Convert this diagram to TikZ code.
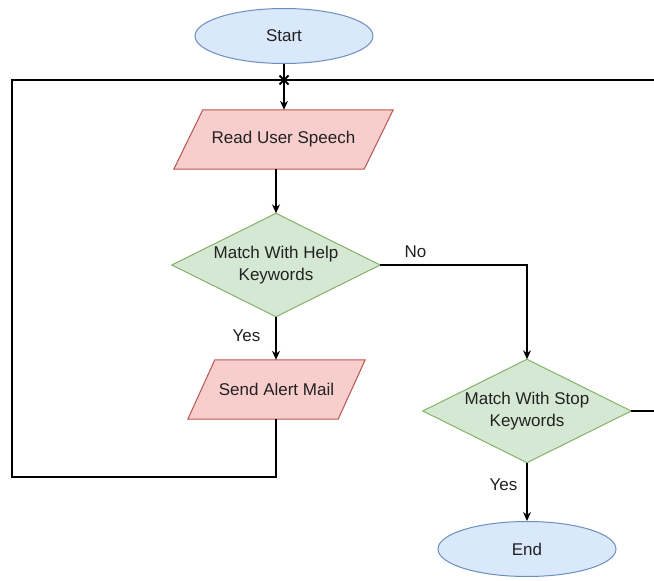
\documentclass[tikz,border=0pt]{standalone}
\usepackage{fontspec}
\setmainfont{Liberation Sans}
\usetikzlibrary{shapes.geometric,arrows.meta,backgrounds}
\definecolor{bluefill}{HTML}{DAE8FC}
\definecolor{bluedraw}{HTML}{6C8EBF}
\definecolor{redfill}{HTML}{F8CECC}
\definecolor{reddraw}{HTML}{B85450}
\definecolor{greenfill}{HTML}{D5E8D4}
\definecolor{greendraw}{HTML}{82B366}
\definecolor{txt}{HTML}{222222}
\begin{document}
\begin{tikzpicture}[x=1pt,y=-1pt,
  every node/.style={font=\fontsize{17}{22}\selectfont, text=txt},
  terminal/.style={ellipse, draw=bluedraw, fill=bluefill, line width=1pt, minimum width=178pt, minimum height=55pt, inner sep=0pt},
  iobox/.style={rectangle, inner sep=0pt, minimum height=59pt},
  iofill/.style={draw=reddraw, fill=redfill, line width=1pt},
  decision/.style={rectangle, minimum width=208pt, minimum height=103pt, inner sep=0pt, align=center},
  decfill/.style={draw=greendraw, fill=greenfill, line width=1pt},
  conn/.style={line width=1.3pt},
  arr/.style={conn, -{Stealth[length=9pt,width=8pt]}},
  lbl/.style={inner sep=0pt}
]
\useasboundingbox (0,0) rectangle (654,581);

\node[terminal] (start) at (284,36) {Start};
\node[iobox, minimum width=219pt] (read) at (283.5,139.5) {Read User Speech};
\node[decision] (help) at (276,265) {Match With Help\\Keywords};
\node[iobox, minimum width=177pt] (send) at (276.5,389.5) {Send Alert Mail};
\node[decision] (stop) at (527,411) {Match With Stop\\Keywords};
\node[terminal] (end) at (527,549) {End};

\begin{scope}[on background layer]
  \draw[iofill] ([xshift=29pt]read.north west) -- (read.north east) -- ([xshift=-29pt]read.south east) -- (read.south west) -- cycle;
  \draw[iofill] ([xshift=27pt]send.north west) -- (send.north east) -- ([xshift=-27pt]send.south east) -- (send.south west) -- cycle;
  \draw[decfill] (help.north) -- (help.east) -- (help.south) -- (help.west) -- cycle;
  \draw[decfill] (stop.north) -- (stop.east) -- (stop.south) -- (stop.west) -- cycle;
\end{scope}

\coordinate (cross) at (284,80);
\coordinate (bl) at (12,477);
\coordinate (tl) at (12,80);
\coordinate (tr) at (654,80);
\coordinate (rr) at (654,411);

% main flow
\draw[arr] (start.south) -- (read.north -| start.south);
\draw[arr] (read.south -| help.north) -- (help.north);
\draw[arr] (help.south) -- node[lbl, left=15pt, pos=0.45] {Yes} (send.north -| help.south);
\draw[arr] (help.east) -- (help.east -| stop.north) node[lbl, pos=0.24, above=7pt] {No} -- (stop.north);
\draw[arr] (stop.south) -- node[lbl, left=9pt, pos=0.37] {Yes} (end.north);

% loop back
\draw[conn] (send.south -| help.south) -- (bl -| help.south) -- (bl) -- (tl) -- (tr);
\draw[conn] (stop.east) -- (rr);

% crossing marker
\draw[line width=2pt] ([shift={(-4.5,-4.5)}]cross) -- ([shift={(4.5,4.5)}]cross);
\draw[line width=2pt] ([shift={(-4.5,4.5)}]cross) -- ([shift={(4.5,-4.5)}]cross);
\end{tikzpicture}
\end{document}
